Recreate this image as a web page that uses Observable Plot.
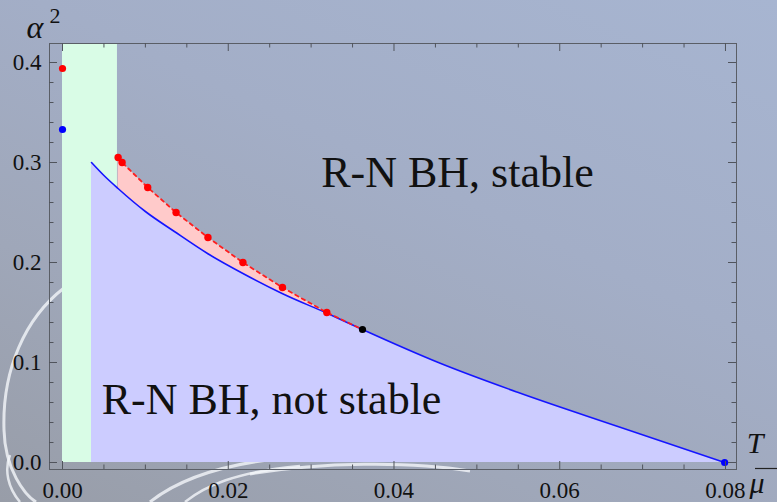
<!DOCTYPE html>
<html><head><meta charset="utf-8">
<script src="https://cdn.jsdelivr.net/npm/d3@7"></script>
<script src="https://cdn.jsdelivr.net/npm/@observablehq/plot@0.6"></script>
<style>
html,body{margin:0;padding:0;}
body{width:777px;height:502px;overflow:hidden;position:relative;
 font-family:"Liberation Serif","DejaVu Serif",serif;
 background:linear-gradient(25deg,#989da8 0%,#9fa7b9 30%,#a3aec7 60%,#a7b5d1 100%);}
#bg{position:absolute;left:0;top:0;}
#chart{position:absolute;left:0;top:0;}
</style></head><body>
<svg id="bg" width="777" height="502" fill="none" stroke="#f4f6fa" stroke-opacity="0.8">
  <path d="M64,288 C25,318 2,370 4,430 C5,470 25,495 36,502" stroke-width="3"/>
  <path d="M20,502 C8,488 4,470 10,455" stroke-width="2.5"/>
  <path d="M150,502 C175,482 215,466 275,459" stroke-width="3"/>
  <path d="M185,502 C205,486 235,472 300,466" stroke-width="2.5"/>
  <path d="M250,474 C320,462 410,461 470,471" stroke-width="3"/>
</svg>
<div id="chart"></div>
<script>
// blue curve (stability boundary)
const blueT = [0.0035, 0.005, 0.0067, 0.010, 0.0135, 0.0175, 0.022, 0.0265, 0.032, 0.0362, 0.0455, 0.055, 0.0672, 0.0799];
const blueA = [0.300, 0.287, 0.274, 0.251, 0.231, 0.209, 0.188, 0.169, 0.149, 0.133, 0.0995, 0.070, 0.0355, 0.0];
// red numerical points
const redT = [0.00671, 0.00719, 0.01028, 0.0137, 0.01755, 0.02177, 0.02654, 0.03189];
const redA = [0.305, 0.300, 0.275, 0.250, 0.225, 0.200, 0.175, 0.150];
// black meeting point
const blackT = [0.0362];
const blackA = [0.133];
// points on the axes
const redZeroT = [0];   const redZeroA = [0.394];
const blueDotT = [0, 0.0799]; const blueDotA = [0.333, 0];
// green band
const bandT = [0, 0.00663];
const bandA = [0, 0.419];
// ticks
const xMajor = [0, 0.02, 0.04, 0.06, 0.08];
const xTickLabels = ["0.00", "0.02", "0.04", "0.06", "0.08"];
const xMinor = [0.005, 0.01, 0.015, 0.025, 0.03, 0.035, 0.045, 0.05, 0.055, 0.065, 0.07, 0.075];
const yMajor = [0, 0.1, 0.2, 0.3, 0.4];
const yTickLabels = ["0.0", "0.1", "0.2", "0.3", "0.4"];
const yMinor = [0.02, 0.04, 0.06, 0.08, 0.12, 0.14, 0.16, 0.18, 0.22, 0.24, 0.26, 0.28, 0.32, 0.34, 0.36, 0.38];
// region labels
const labelText = ["R-N BH, stable", "R-N BH, not stable"];
const labelT = [0.04766, 0.02522];
const labelA = [0.290, 0.063];

const blue = blueT.map((t, i) => ({t, a: blueA[i]}));
const red = redT.map((t, i) => ({t, a: redA[i]}));
const redLine = red.concat(blackT.map((t, i) => ({t, a: blackA[i]})));
const labels = labelText.map((s, i) => ({s, t: labelT[i], a: labelA[i]}));
const band = [{x1: bandT[0], x2: bandT[1], y1: bandA[0], y2: bandA[1]}];
const xLab = xMajor.map((v, i) => ({v, s: xTickLabels[i]}));
const yLab = yMajor.map((v, i) => ({v, s: yTickLabels[i]}));

const H = 502, W = 777, mT = 43, mB = 33, mL = 49, mR = 41;
const ih = H - mT - mB, iw = W - mL - mR;
const tickCol = "#50545c";
const serif = "'Liberation Serif', 'DejaVu Serif', serif";

const chart = Plot.plot({
  width: W, height: H,
  marginLeft: mL, marginRight: mR, marginTop: mT, marginBottom: mB,
  style: {background: "transparent", fontFamily: serif, fontSize: "23px", color: "#111"},
  x: {domain: [-0.00157, 0.08133], axis: null},
  y: {domain: [-0.007, 0.419], axis: null},
  marks: [
    Plot.rect(band, {x1: "x1", x2: "x2", y1: "y1", y2: "y2", fill: "#d9fce6"}),
    Plot.areaY(redLine, {x: "t", y: "a", fill: "#ffcaca"}),
    Plot.areaY(blue, {x: "t", y: "a", fill: "#ccccff", curve: "monotone-x"}),
    Plot.lineY(blue, {x: "t", y: "a", stroke: "#1515ff", strokeWidth: 1.6, curve: "monotone-x"}),
    Plot.lineY(redLine, {x: "t", y: "a", stroke: "#ff1e1e", strokeWidth: 1.8, strokeDasharray: "3.5,4"}),
    Plot.dot(red, {x: "t", y: "a", r: 3.7, fill: "#ff0000"}),
    Plot.dot(redZeroT, {x: d => d, y: (d, i) => redZeroA[i], r: 3.6, fill: "#ff0000"}),
    Plot.dot(blueDotT, {x: d => d, y: (d, i) => blueDotA[i], r: 3.6, fill: "#0000ff"}),
    Plot.dot(blackT, {x: d => d, y: (d, i) => blackA[i], r: 3.6, fill: "#000"}),
    Plot.frame({stroke: "#5a5e66", strokeWidth: 1}),
    Plot.tickX(xMajor, {x: d => d, insetTop: ih - 8, stroke: tickCol}),
    Plot.tickX(xMinor, {x: d => d, insetTop: ih - 4.5, stroke: tickCol}),
    Plot.tickX(xMajor, {x: d => d, insetBottom: ih - 8, stroke: tickCol}),
    Plot.tickX(xMinor, {x: d => d, insetBottom: ih - 4.5, stroke: tickCol}),
    Plot.tickY(yMajor, {y: d => d, insetRight: iw - 8, stroke: tickCol}),
    Plot.tickY(yMinor, {y: d => d, insetRight: iw - 4.5, stroke: tickCol}),
    Plot.tickY(yMajor, {y: d => d, insetLeft: iw - 8, stroke: tickCol}),
    Plot.tickY(yMinor, {y: d => d, insetLeft: iw - 4.5, stroke: tickCol}),
    // tick labels
    Plot.text(xLab, {x: "v", text: "s", frameAnchor: "bottom", dy: 12, lineAnchor: "top", textAnchor: "middle", fontSize: 23, fontFamily: serif, fill: "#111"}),
    Plot.text(yLab, {y: "v", text: "s", frameAnchor: "left", dx: -8, lineAnchor: "middle", textAnchor: "end", fontSize: 23, fontFamily: serif, fill: "#111"}),
    Plot.text(labels, {x: "t", y: "a", text: "s", fontSize: 44, fontFamily: serif, textAnchor: "middle", lineAnchor: "middle", fill: "#111"})
  ]
});
document.getElementById("chart").appendChild(chart);

// axis titles: α² (top-left) and T/μ (bottom-right)
const svg = d3.select(chart);
const g = svg.append("g").attr("font-family", serif).attr("fill", "#111");
g.append("text").attr("x", 35).attr("y", 38).attr("font-size", 32).attr("font-style", "italic").text("α");
g.append("text").attr("x", 55).attr("y", 23).attr("font-size", 22).text("2");
g.append("text").attr("x", 755).attr("y", 453).attr("font-size", 30).attr("font-style", "italic").text("T");
g.append("line").attr("x1", 755).attr("x2", 777).attr("y1", 468.5).attr("y2", 468.5).attr("stroke", "#222").attr("stroke-width", 1.2);
g.append("text").attr("x", 757).attr("y", 493).attr("font-size", 30).attr("font-style", "italic").text("μ");
</script>
</body></html>
